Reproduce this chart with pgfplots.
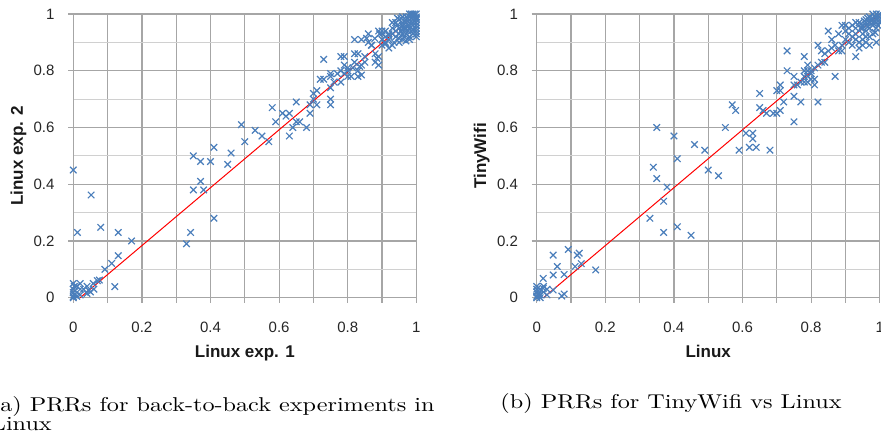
\documentclass[border=0pt]{standalone}
\usepackage{fontspec}
\usepackage{graphicx}
\usepackage{pgfplots}
\pgfplotsset{compat=1.18}
\newfontfamily\arial{Liberation Sans}
\definecolor{gridc}{HTML}{A6A6A6}
\definecolor{gridm}{HTML}{D0D0D0}
\definecolor{ptblue}{HTML}{4A7EBB}

\pgfplotsset{
  prr/.style={
    scale only axis, width=171.5pt, height=141.85pt,
    xmin=0, xmax=1, ymin=0, ymax=1,
    xtick={0,0.1,0.2,0.3,0.4,0.5,0.6,0.7,0.8,0.9,1},
    xticklabels={0,,0.2,,0.4,,0.6,,0.8,,1},
    ytick={0,0.2,0.4,0.6,0.8,1},
    minor ytick={0.1,0.3,0.5,0.7,0.9},
    xmajorgrids, ymajorgrids, yminorgrids,
    major grid style={draw=gridc, line width=0.6pt},
    minor grid style={draw=gridm, line width=0.6pt},
    axis line style={draw=gridc, line width=0.6pt},
    tick align=outside, tick pos=left,
    major tick length=2.5pt, minor tick length=0pt,
    major tick style={draw=gridc, line width=0.6pt},
    /pgf/number format/assume math mode=true,
    tick label style={font=\arial\fontsize{7.5}{9}\selectfont, text=black!85},
    xticklabel style={anchor=north, inner sep=0pt, yshift=-9.5pt},
    yticklabel style={anchor=east, inner sep=0pt, xshift=-6.7pt},
    label style={font=\arial\bfseries\fontsize{8.5}{10}\selectfont, text=black!90},
    xlabel style={at={(axis description cs:0.5,-0.2125)}, anchor=base},
    ylabel style={at={(axis description cs:-0.160,0.5)}, anchor=center},
    clip=false,
  },
  pts/.style={only marks, mark=x, mark size=2.3pt, draw=ptblue,
              mark options={line width=0.6pt}},
  fit/.style={red, line width=0.5pt, no marks},
}

\begin{document}
\begin{tikzpicture}
\useasboundingbox (0,0) rectangle (440.5pt,-217.5pt);
\clip (0,0) rectangle (440.5pt,-217.5pt);

\begin{axis}[prr, at={(36.65pt,-148.85pt)}, anchor=south west,
  xlabel={Linux exp. 1}, ylabel={Linux exp. 2}]
\addplot[pts] coordinates {
(0,0) (0,0.004) (0.002,0.01) (0,0.018) (0.005,0.025) (0.01,0.005) (0,0.03)
(0.003,0.04) (0,0.05) (0.02,0.05) (0.01,0.04) (0.02,0.03) (0.03,0.03)
(0.04,0.04) (0.044,0.027) (0.05,0.02) (0.058,0.05) (0.06,0.03) (0.02,0.01)
(0.04,0.015) (0.076,0.062) (0.07,0.06) (0.092,0.10) (0.112,0.121)
(0.121,0.039) (0.131,0.148) (0.131,0.23) (0.17,0.20) (0.08,0.248)
(0.012,0.23) (0.052,0.362) (0,0.45)
(0.33,0.19) (0.342,0.23) (0.35,0.38) (0.35,0.50) (0.371,0.48) (0.371,0.41)
(0.38,0.38) (0.40,0.48) (0.41,0.53) (0.41,0.28) (0.45,0.47) (0.46,0.51)
(0.49,0.61) (0.50,0.55) (0.53,0.59) (0.55,0.57) (0.57,0.55) (0.58,0.67)
(0.59,0.62) (0.61,0.65) (0.62,0.64) (0.63,0.65) (0.63,0.57) (0.64,0.60)
(0.65,0.69) (0.65,0.62) (0.66,0.62) (0.68,0.60) (0.69,0.68) (0.69,0.65)
(0.70,0.70) (0.70,0.72) (0.71,0.73) (0.71,0.68) (0.72,0.77) (0.73,0.84)
(0.73,0.77) (0.75,0.70) (0.75,0.68) (0.75,0.74) (0.75,0.78) (0.76,0.76)
(0.75,0.79) (0.78,0.76) (0.78,0.80) (0.78,0.85) (0.79,0.85) (0.79,0.82)
(0.80,0.80) (0.80,0.78) (0.81,0.78) (0.82,0.83) (0.82,0.86) (0.83,0.86)
(0.83,0.80) (0.83,0.78) (0.84,0.82) (0.85,0.83) (0.85,0.85) (0.82,0.91)
(0.84,0.91) (0.86,0.93) (0.86,0.90) (0.87,0.89) (0.88,0.86) (0.88,0.83)
(0.89,0.82) (0.89,0.85) (0.89,0.94) (0.90,0.93) (0.90,0.91) (0.91,0.90)
(0.92,0.93) (0.93,0.89) (0.94,0.94) (0.95,0.90) (0.96,0.93) (0.96,0.96)
(0.97,0.98) (0.97,0.93) (0.98,0.95) (0.98,0.92) (0.99,0.97)
(0.77,0.79) (0.79,0.79) (0.80,0.81) (0.815,0.81) (0.835,0.815) (0.84,0.785)
(0.855,0.914) (0.869,0.89) (0.879,0.914) (0.885,0.844) (0.893,0.93)
(0.91,0.94) (0.91,0.895) (0.92,0.925) (0.93,0.95) (0.935,0.90) (0.945,0.96)
(0.95,0.914) (0.955,0.94) (0.96,0.97) (0.965,0.92) (0.97,0.99) (0.97,0.95)
(0.98,1.0) (0.98,0.98) (0.99,0.99) (0.995,1.0) (1,0.985) (1,1) (1,0.97)
(0.99,0.96) (0.96,0.99) (0.955,0.985) (1,0.99) (0.99,1) (1,0.98) (0.98,0.99)
(0.99,0.98) (1,0.96) (1,0.95) (0.985,0.94) (0.975,0.96) (0.965,0.95)
(0.95,0.95) (0.94,0.92) (0.93,0.93) (0.92,0.91) (0.97,0.97) (0.98,0.96)
(0.99,0.93) (1,0.94) (0.96,0.95) (0.95,0.98) (0.94,0.97) (0.93,0.97)
(0.90,0.94) (0.91,0.92) (0.92,0.88) (0.90,0.89) (0.95,0.93) (0.96,0.91)
(0.97,0.905) (0.98,0.91) (1,0.92) (0.995,0.975) (0.985,0.965) (0.975,0.985)
(0.965,0.975) (0.99,0.945) (0.975,0.94) (0.985,1) (0.945,0.985) (1,0.93)
};
\addplot[fit] coordinates {(0.02,0) (1,1)};
\end{axis}

\begin{axis}[prr, at={(268.35pt,-148.85pt)}, anchor=south west,
  xlabel={Linux}, ylabel={TinyWifi}]
\addplot[pts] coordinates {
(0,0) (0,0.005) (0.005,0.01) (0,0.02) (0.01,0.01) (0,0.03) (0.01,0.03)
(0,0.04) (0.005,0.015) (0.02,0.04) (0.019,0.068) (0.03,0.03) (0.02,0.02)
(0.048,0.027) (0.048,0.08) (0.048,0.15) (0.06,0.11) (0.073,0.006)
(0.08,0.013) (0.08,0.082) (0.092,0.17) (0.112,0.11) (0.118,0.15)
(0.124,0.157) (0.13,0.12) (0.172,0.098) (0.019,0.033) (0.01,0) (0.03,0.01)
(0.35,0.60) (0.40,0.57) (0.41,0.49) (0.34,0.46) (0.35,0.42) (0.38,0.39)
(0.37,0.34) (0.33,0.28) (0.37,0.23) (0.41,0.25) (0.45,0.22) (0.46,0.54)
(0.49,0.52) (0.50,0.45) (0.53,0.43) (0.55,0.60) (0.57,0.68) (0.58,0.66)
(0.59,0.52) (0.61,0.58) (0.62,0.53) (0.63,0.58) (0.63,0.56) (0.64,0.53)
(0.65,0.72) (0.65,0.67) (0.66,0.66) (0.67,0.65) (0.68,0.52) (0.69,0.65)
(0.70,0.65) (0.70,0.73) (0.71,0.75) (0.71,0.73) (0.71,0.66) (0.72,0.69)
(0.73,0.87) (0.73,0.80) (0.75,0.78) (0.75,0.75) (0.75,0.71) (0.75,0.62)
(0.76,0.75) (0.77,0.69) (0.78,0.85) (0.78,0.80) (0.78,0.76) (0.79,0.78)
(0.79,0.82) (0.80,0.80) (0.80,0.77) (0.81,0.75) (0.82,0.69) (0.82,0.89)
(0.83,0.87) (0.83,0.83) (0.84,0.83) (0.85,0.87) (0.85,0.94) (0.86,0.91)
(0.87,0.78) (0.87,0.89) (0.88,0.93) (0.89,0.87) (0.89,0.96) (0.90,0.94)
(0.90,0.91) (0.91,0.93) (0.92,0.89) (0.93,0.85) (0.93,0.93) (0.93,0.97)
(0.94,0.90) (0.95,0.89) (0.95,0.95) (0.96,0.92) (0.96,0.97)
(0.77,0.76) (0.78,0.78) (0.79,0.80) (0.80,0.79) (0.81,0.81) (0.82,0.82)
(0.79,0.76) (0.81,0.77) (0.84,0.86) (0.86,0.88) (0.88,0.87) (0.89,0.89)
(0.90,0.96) (0.91,0.95) (0.92,0.96) (0.93,0.95) (0.94,0.97) (0.95,0.96)
(0.96,0.98) (0.97,0.99) (0.98,1) (0.99,1) (1,1) (1,0.99) (0.99,0.98)
(0.98,0.97) (0.97,0.95) (0.96,0.94) (0.97,0.92) (0.98,0.93) (0.99,0.95)
(1,0.97) (0.987,0.935) (0.99,0.90) (0.96,0.90) (0.95,0.91) (0.94,0.88)
(0.97,0.89) (0.975,0.98) (0.985,0.99) (0.995,0.995) (1,0.98) (0.98,0.96)
(0.97,0.97) (0.96,0.96) (0.95,0.93) (0.99,0.97) (0.995,0.96) (0.965,0.985)
(0.955,0.975) (0.945,0.95) (0.93,0.91) (0.92,0.92) (0.91,0.90)
(0.975,0.965) (0.985,0.975) (0.965,0.955) (0.945,0.965) (0.98,0.985)
};
\addplot[fit] coordinates {(0.02,0) (1,1)};
\end{axis}

\node[anchor=base east, inner sep=0pt, font=\fontsize{10}{12}\selectfont]
  (capa) at (217.5pt,-205.85pt)
  {\scalebox{1.21}[1]{(a) PRRs for back-to-back experiments in}};
\node[anchor=base west, inner sep=0pt, font=\fontsize{10}{12}\selectfont]
  at ([yshift=-9.15pt]capa.base west) {\scalebox{1.21}[1]{Linux}};
\node[anchor=base west, inner sep=0pt, font=\fontsize{10}{12}\selectfont]
  at (250pt,-204.2pt)
  {\scalebox{1.21}[1]{(b) PRRs for TinyWifi vs Linux}};
\end{tikzpicture}
\end{document}
